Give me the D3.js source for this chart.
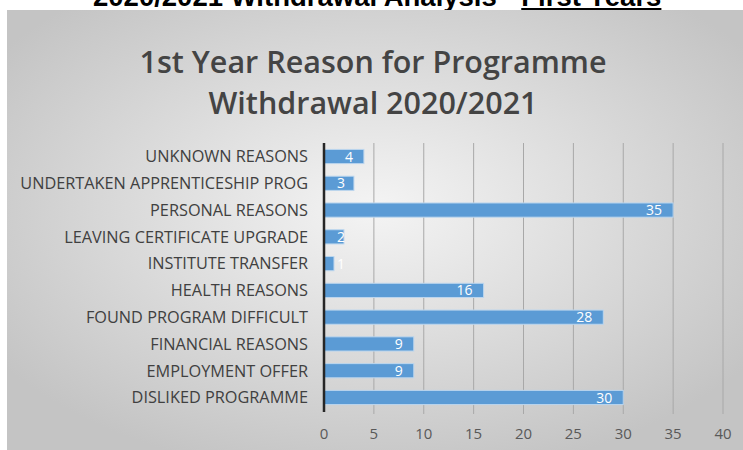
<!DOCTYPE html>
<html lang="en">
<head>
  <meta charset="utf-8">
  <title>1st Year Reason for Programme Withdrawal</title>
  <script src="https://cdn.jsdelivr.net/npm/d3@7"></script>
  <style>
    body { margin: 0; background: #fff; }
  </style>
</head>
<body>
<script>
  // data (top row first)
  var reasons = ["UNKNOWN REASONS", "UNDERTAKEN APPRENTICESHIP PROG", "PERSONAL REASONS",
    "LEAVING CERTIFICATE UPGRADE", "INSTITUTE TRANSFER", "HEALTH REASONS",
    "FOUND PROGRAM DIFFICULT", "FINANCIAL REASONS", "EMPLOYMENT OFFER", "DISLIKED PROGRAMME"];
  var counts = [4, 3, 35, 2, 1, 16, 28, 9, 9, 30];
  var xTicks = [0, 5, 10, 15, 20, 25, 30, 35, 40];

  var w = 743, h = 450;

  var svg = d3.select("body").append("svg")
    .attr("width", w)
    .attr("height", h);

  // page heading, mostly cut off at the top (as in the source picture)
  var head = svg.append("text")
    .attr("x", 93)
    .attr("y", 6)
    .attr("font-family", "'Liberation Sans', Arial, sans-serif")
    .attr("font-weight", "bold")
    .attr("font-size", 27.5)
    .attr("fill", "#000");
  head.append("tspan").text("2020/2021 Withdrawal Analysis - ");
  head.append("tspan").style("text-decoration", "underline").text("First Years");

  // chart background
  var defs = svg.append("defs");
  var grad = defs.append("radialGradient")
    .attr("id", "bg")
    .attr("cx", "50%").attr("cy", "45%").attr("r", "62%");
  grad.append("stop").attr("offset", "0%").attr("stop-color", "#f4f4f4");
  grad.append("stop").attr("offset", "100%").attr("stop-color", "#c4c4c4");

  svg.append("rect")
    .attr("x", 7)
    .attr("y", 10)
    .attr("width", w - 7)
    .attr("height", h - 10)
    .attr("fill", "url(#bg)");

  // chart title
  var title = svg.append("text")
    .attr("text-anchor", "middle")
    .attr("font-family", "'Open Sans', sans-serif")
    .attr("font-size", 30.5)
    .attr("font-weight", 600)
    .attr("fill", "#444");
  title.append("tspan").attr("x", 373).attr("y", 73).text("1st Year Reason for Programme");
  title.append("tspan").attr("x", 373).attr("y", 114).text("Withdrawal 2020/2021");

  var x = d3.scaleLinear()
    .domain([0, 40])
    .range([324, 723]);

  var y = d3.scaleBand()
    .domain(reasons)
    .range([143, 411])
    .paddingInner(0.47)
    .paddingOuter(0.24);

  // gridlines
  svg.selectAll(".grid")
    .data(xTicks.slice(1))
    .enter()
    .append("line")
    .attr("class", "grid")
    .attr("x1", function(d){ return x(d); })
    .attr("x2", function(d){ return x(d); })
    .attr("y1", 143)
    .attr("y2", 414)
    .attr("stroke", "#a8a8a8")
    .attr("stroke-width", 1);

  // tick labels
  svg.selectAll(".tick")
    .data(xTicks)
    .enter()
    .append("text")
    .attr("class", "tick")
    .attr("x", function(d){ return x(d); })
    .attr("y", 439)
    .attr("text-anchor", "middle")
    .attr("font-family", "'Open Sans', sans-serif")
    .attr("font-size", 15)
    .attr("fill", "#595959")
    .text(function(d){ return d; });

  // bars
  svg.selectAll(".bar")
    .data(counts)
    .enter()
    .append("rect")
    .attr("class", "bar")
    .attr("x", x(0))
    .attr("y", function(d, i){ return y(reasons[i]); })
    .attr("width", function(d){ return x(d) - x(0); })
    .attr("height", y.bandwidth())
    .attr("fill", "#5b9bd5")
    .attr("stroke", "#bcd6ee")
    .attr("stroke-width", 1);

  // value labels
  svg.selectAll(".val")
    .data(counts)
    .enter()
    .append("text")
    .attr("class", "val")
    .attr("x", function(d){ return Math.max(x(d) - 11, x(0) + 21); })
    .attr("y", function(d, i){ return y(reasons[i]) + y.bandwidth() / 2; })
    .attr("dy", "0.36em")
    .attr("text-anchor", "end")
    .attr("font-family", "'Open Sans', sans-serif")
    .attr("font-size", 14)
    .attr("fill", "#fff")
    .text(function(d){ return d; });

  // category labels
  svg.selectAll(".cat")
    .data(reasons)
    .enter()
    .append("text")
    .attr("class", "cat")
    .attr("x", 308)
    .attr("y", function(d){ return y(d) + y.bandwidth() / 2; })
    .attr("dy", "0.36em")
    .attr("text-anchor", "end")
    .attr("font-family", "'Open Sans', sans-serif")
    .attr("font-size", 16.3)
    .attr("fill", "#404040")
    .text(function(d){ return d; });

  // vertical axis line
  svg.append("line")
    .attr("x1", x(0))
    .attr("x2", x(0))
    .attr("y1", 143)
    .attr("y2", 412)
    .attr("stroke", "#262626")
    .attr("stroke-width", 2.5);
</script>
</body>
</html>
